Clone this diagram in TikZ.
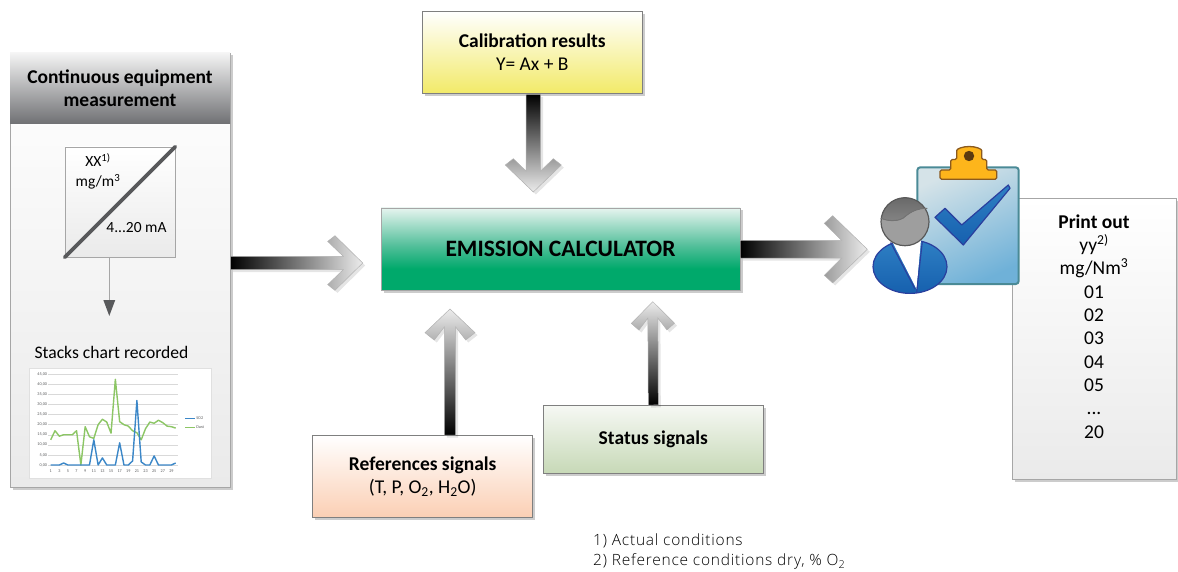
\documentclass[tikz,border=0pt]{standalone}
\usepackage{fontspec}
\setmainfont{Carlito}
\newfontfamily\notefont[LetterSpace=5]{Open Sans Light}
\usetikzlibrary{calc,shadows,arrows.meta}
\definecolor{gA}{HTML}{E6F4EF}\definecolor{gB}{HTML}{52BF9A}\definecolor{gC}{HTML}{00A96B}
\definecolor{hdA}{HTML}{F4F4F4}\definecolor{hdB}{HTML}{6F7073}
\definecolor{edge}{HTML}{7F7F7F}\definecolor{edgeL}{HTML}{A6A6A6}
\definecolor{yel}{HTML}{F2EA68}\definecolor{pch}{HTML}{FBCFB4}
\definecolor{grn}{HTML}{C7D9B7}\definecolor{grnT}{HTML}{F6F8F4}
\definecolor{pale}{HTML}{EAEAEA}\definecolor{tip}{HTML}{ECECEC}
\definecolor{slate}{HTML}{58595B}
\definecolor{clipB}{HTML}{4A8A96}\definecolor{clipA}{HTML}{D5E3E8}\definecolor{clipM}{HTML}{A4CBDD}\definecolor{clipC}{HTML}{6FB1D8}
\definecolor{orng}{HTML}{FDB51B}\definecolor{brwn}{HTML}{8B5A1E}\definecolor{hole}{HTML}{5A3A10}
\definecolor{bluD}{HTML}{2A3F9E}\definecolor{bluA}{HTML}{2F80C4}\definecolor{bluB}{HTML}{1660AE}
\definecolor{serA}{HTML}{3B87C8}\definecolor{serB}{HTML}{8CC665}
\pgfdeclareverticalshading{emshade}{100bp}{color(0bp)=(gC); color(38bp)=(gC); color(52bp)=(gB); color(75bp)=(gA); color(100bp)=(gA)}
\tikzset{
  softshadow/.style={drop shadow={shadow xshift=2.5pt,shadow yshift=-2.5pt,opacity=.2,fill=black}},
  boxnode/.style={rectangle,draw=edge,line width=.9pt,inner sep=0pt,align=center,softshadow,
    font=\fontsize{19.5}{23}\selectfont},
  lightbox/.style={boxnode,draw=edgeL},
  arrowbody/.style={draw=gray!60,line width=.5pt,drop shadow={shadow xshift=2.5pt,shadow yshift=-2.5pt,opacity=.1,fill=black}},
  plain/.style={inner sep=0pt,align=center,font=\fontsize{19.5}{23.3}\selectfont},
  small/.style={inner sep=0pt,font=\fontsize{4.2}{5}\selectfont,text=slate},
  serie/.style={line width=1.4pt,line join=round}
}
\newcommand{\gradarrow}[9][]{%
  \coordinate (gaJ) at ($(#3)!#5!(#2)$);
  \coordinate (gaC) at ($(#3)!#6!(#2)$);
  \coordinate (gaO) at ($(#3)!#8!(#2)$);
  \path[arrowbody,#1]
    ($(#2)!#4!90:(#3)$) -- ($(gaJ)!#4!90:(#3)$) -- ($(gaC)!#7!90:(#3)$) -- ($(gaO)!#9!90:(#3)$) -- (#3)
    -- ($(gaO)!#9!-90:(#3)$) -- ($(gaC)!#7!-90:(#3)$) -- ($(gaJ)!#4!-90:(#3)$) -- ($(#2)!#4!-90:(#3)$) -- cycle;
}
\begin{document}
\begin{tikzpicture}[x=1pt,y=-1pt]
\useasboundingbox (0,0) rectangle (1178,572);

% left panel
\node[lightbox,minimum width=220pt,minimum height=434pt,top color=white,bottom color=pale] (panel) at (120,270) {};
\node[rectangle,inner sep=0pt,align=center,minimum width=220pt,minimum height=71pt,top color=hdA,bottom color=hdB,
  font=\bfseries\fontsize{19.5}{23}\selectfont] (head) at (120,88.5) {Continuous equipment\\measurement};

% transmitter
\node[rectangle,draw=edgeL,line width=.8pt,minimum width=110pt,minimum height=110pt,top color=white,bottom color=pale,inner sep=0pt] (trans) at (120,202) {};
\draw[slate,line width=3.6pt,line cap=round] (trans.south west) -- (trans.north east);
\node[plain,font=\fontsize{15.5}{20}\selectfont] (xx) at (98,171) {XX\textsuperscript{1)}\\mg/m\textsuperscript{3}};
\node[plain,font=\fontsize{15.5}{20}\selectfont] (ma) at (136.5,228) {4...20 mA};
\coordinate (thinend) at (109.3,316);
\draw[edgeL,line width=1.6pt,-{Triangle[width=11.5pt,length=16pt,fill=slate,color=slate]}] ($(trans.south)+(-10.7,0)$) -- (thinend);
\node[plain,font=\fontsize{17.6}{20}\selectfont] (stacks) at (111.5,352) {Stacks chart recorded};

% chart
\node[rectangle,draw=black!12,line width=.6pt,fill=white,minimum width=182pt,minimum height=110pt,inner sep=0pt] (chart) at (120,423) {};
\begin{scope}[shift={(46.39,465)},x=4.31pt,y=2.016pt]
  \foreach \v in {0,5,...,45} {
    \draw[black!15,line width=.4pt] (0.4,\v) -- (30.5,\v);
    \node[small,anchor=east] (yl\v) at (0.2,\v) {\v,00};
  }
  \foreach \d in {1,3,...,29} \node[small] (xl\d) at (\d,-3) {\d};
  \draw[serie,serB] plot coordinates {(1,12.5)(2,17)(3,14.3)(4,15)(5,15)(6,15)(7,17)(8,0)(9,19)(10,14)(11,13.2)(12,20)(13,22.7)(14,21.3)(15,15.8)(16,42.5)(17,21.5)(18,20)(19,19.3)(20,17)(21,16)(22,12.5)(23,18)(24,21.3)(25,20.7)(26,22.2)(27,21)(28,19.3)(29,19)(30,18.3)};
  \draw[serie,serA] plot coordinates {(1,0)(2,0)(3,0)(4,1)(5,0)(6,0)(7,0)(8,0)(9,0)(10,0)(11,12.5)(12,0)(13,3.5)(14,0)(15,0)(16,0)(17,11)(18,0)(19,0)(20,2)(21,32)(22,1.5)(23,0)(24,0)(25,4.5)(26,0)(27,0)(28,0)(29,0)(30,1)};
\end{scope}
\coordinate (lega) at (185,418);\coordinate (legb) at (185,427.5);
\draw[serA,line width=1pt] (lega) -- ++(10,0) node[small,anchor=west,xshift=.8pt] (so2) {SO2};
\draw[serB,line width=1pt] (legb) -- ++(10,0) node[small,anchor=west,xshift=.8pt] (dust) {Dust};

% boxes
\node[boxnode,minimum width=220pt,minimum height=82pt,top color=white,bottom color=yel] (cal) at (532.3,52.5)
  {\textbf{Calibration results}\\Y= Ax + B};
\node[boxnode,draw=edgeL,minimum width=359pt,minimum height=82pt,shading=emshade,font=\bfseries\fontsize{23.5}{27}\selectfont] (emit) at (560.5,249) {EMISSION CALCULATOR};
\node[boxnode,minimum width=220pt,minimum height=82pt,top color=white,bottom color=pch] (refs) at (422.7,476.3)
  {\textbf{References signals}\\(T, P, O\textsubscript{2}, H\textsubscript{2}O)};
\node[boxnode,minimum width=220pt,minimum height=68pt,top color=grnT,bottom color=grn] (status) at (653.3,439.2)
  {\raisebox{-1.5pt}{\textbf{Status signals}}};
\node[lightbox,minimum width=164pt,minimum height=281pt,top color=white,bottom color=pale] (print) at (1094.7,338.8) {};
\node[plain,anchor=north,font=\fontsize{19.5}{23.3}\selectfont] (printtxt) at (1094,214.5)
  {\textbf{Print out}\\yy\textsuperscript{2)}\\mg/Nm\textsuperscript{3}\\01\\02\\03\\04\\05\\...\\20};

% arrows
\coordinate (tipA) at (362.7,263);\coordinate (startA) at (230.5,263);
\gradarrow[left color=black,right color=tip]{startA}{tipA}{6.7pt}{19.4pt}{35pt}{21.6pt}{27.7pt}{27.3pt}
\coordinate (startB) at (emit.east |- 0,249.3);\coordinate (tipB) at (867.3,249.3);
\gradarrow[left color=black,right color=tip]{startB}{tipB}{8.8pt}{25.6pt}{43pt}{26pt}{34.6pt}{33.6pt}
\coordinate (tipC) at (cal.south |- 0,192);\coordinate (startC) at ($(cal.south)+(1,.4)$);\coordinate (tipCC) at ($(tipC)+(1,0)$);
\gradarrow[top color=black,bottom color=tip]{startC}{tipCC}{7.3pt}{21pt}{33.3pt}{20pt}{27pt}{28pt}
\coordinate (startD) at (450,435);\coordinate (tipD) at (450,309);
\gradarrow[bottom color=black,top color=tip]{startD}{tipD}{5.7pt}{18pt}{31pt}{15.7pt}{23.7pt}{25pt}
\coordinate (startE) at (653.3,405);\coordinate (tipE) at (652.8,301.7);
\gradarrow[bottom color=black,top color=tip]{startE}{tipE}{5pt}{16.3pt}{28.3pt}{14pt}{21.6pt}{21.6pt}

% clipboard icon
\draw[clipB,line width=2pt,rounded corners=3pt,top color=clipA,middle color=clipM,bottom color=clipC,shading angle=25] (917.3,167.3) rectangle (1018.7,284);
\draw[brwn,line width=1.3pt,fill=orng,rounded corners=1.5pt]
  (940,179.3) -- (940,170) -- (950.7,170) -- (950.7,159.5) -- (956.7,159.5) -- (956.7,152) arc[start angle=180,end angle=0,x radius=12.5pt,y radius=5.5pt] -- (981.7,159.5) -- (986.7,159.5) -- (986.7,170) -- (996.7,170) -- (996.7,179.3) -- cycle;
\fill[hole] (969,156) circle[radius=5.2pt];
\draw[bluD,line width=1.2pt,line join=round,top color=bluA,bottom color=bluB]
  (935,217.3) -- (945,208.3) -- (961.7,225) -- (1008.3,185) -- (1010,188.3) -- (963.3,245) -- cycle;

% person
\draw[bluD,line width=1.2pt,top color=bluA,bottom color=bluB] (910,266.7) ellipse[x radius=37pt,y radius=26.7pt];
\fill[white] (892,241) -- (921,240) -- (916.5,289) -- cycle;
\draw[bluD,line width=1.1pt] (890.7,242.5) -- (915,289) (922.3,241.5) -- (916.7,292.5);
\begin{scope}
  \clip (905,221.7) circle[radius=24pt];
  \fill[black!38] (905,221.7) circle[radius=24pt];
  \fill[top color=black!62,bottom color=black!48]
    (875,190) -- (935,190) -- (935,208) -- (927.3,208.3) .. controls (915,208) and (908,214) .. (903.3,218) .. controls (896,222) and (888,221) .. (880.7,218.3) -- (875,218.3) -- cycle;
\end{scope}
\draw[black!65,line width=1.2pt] (905,221.7) circle[radius=24pt];
\draw[black!55,line width=1pt] (880.7,218.3) .. controls (888,221) and (896,222) .. (903.3,218) .. controls (908,214) and (915,208) .. (927.3,208.3);

% notes
\node[inner sep=0pt,anchor=west,align=left,font=\notefont\fontsize{15.5}{20}\selectfont,text=black] (notes) at (593,551.3)
  {1) Actual conditions\\2) Reference conditions dry, \% O\textsubscript{2}};
\end{tikzpicture}
\end{document}
